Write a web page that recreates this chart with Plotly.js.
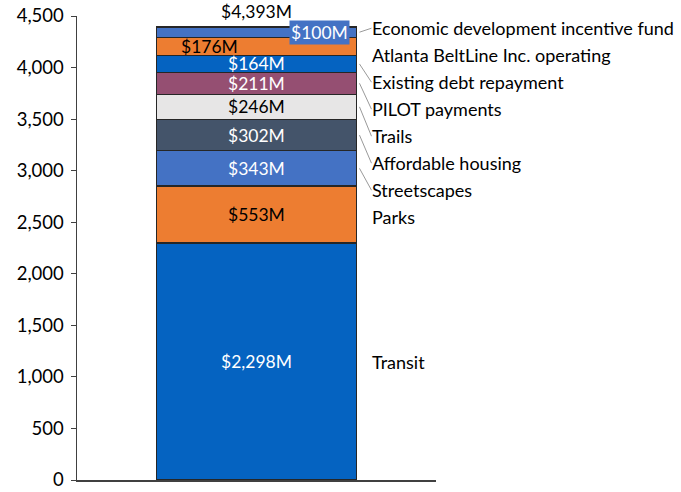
<!DOCTYPE html>
<html>
<head>
<meta charset="utf-8">
<script src="https://cdn.plot.ly/plotly-3.0.1.min.js"></script>
<style>html,body{margin:0;padding:0;background:#fff;}#chart{width:681px;height:492px;}</style>
</head>
<body>
<div id="chart"></div>
<script>
// Data (bottom to top of the stack)
var categories = ["Transit", "Parks", "Streetscapes", "Affordable housing", "Trails",
  "PILOT payments", "Existing debt repayment", "Atlanta BeltLine Inc. operating",
  "Economic development incentive fund"];
var values = [2298, 553, 343, 302, 246, 211, 164, 176, 100];
var valueLabels = ["$2,298M", "$553M", "$343M", "$302M", "$246M", "$211M", "$164M", "$176M", "$100M"];
var totalLabel = "$4,393M";
var yTickVals = [0, 500, 1000, 1500, 2000, 2500, 3000, 3500, 4000, 4500];

// Styles
var colors = ["#0563C1", "#ED7D31", "#4472C4", "#44546A", "#E7E6E6", "#954F72", "#0563C1", "#ED7D31", "#4472C4"];
var textColors = ["#fff", "#000", "#fff", "#fff", "#000", "#fff", "#fff", "#000", "#fff"];
var labelShift = [0, 0, 0, 0, 0, 0, 0, -47, 63];
var showLeader = [false, false, true, true, true, true, true, false, true];

var FONT = "Lato, 'Open Sans', sans-serif";
var barWidth = 0.557;
var plotTop = 16, plotBottom = 12, plotH = 492 - plotTop - plotBottom;
var yMax = 4500;
var pxPerUnit = plotH / yMax;

var traces = [];
var annotations = [];
var shapes = [];
var base = 0;
var centers = [];
for (var i = 0; i < categories.length; i++) {
  traces.push({
    type: "bar", x: [0], y: [values[i]], name: categories[i],
    width: barWidth,
    marker: {color: colors[i], line: {color: "#262626", width: 1.2}},
    hoverinfo: "name+y"
  });
  var c = base + values[i] / 2;
  centers.push(c);
  var ann = {
    x: 0, y: c, xref: "x", yref: "y", text: valueLabels[i], showarrow: false,
    xshift: labelShift[i], font: {family: FONT, size: 17.5, color: textColors[i]}
  };
  if (i === categories.length - 1) {
    ann.bgcolor = colors[i];
    ann.borderpad = 1;
  }
  annotations.push(ann);
  base += values[i];
}
var total = base;
annotations.push({
  x: 0, y: total, xref: "x", yref: "y", text: totalLabel, showarrow: false,
  yanchor: "bottom", yshift: 3, font: {family: FONT, size: 17.5, color: "#000"}
});

// Category labels on the right: top-down, keep at least `gap` px apart
var gapPx = 27;
var labelY = new Array(categories.length);
var prevPx = null;
for (var j = categories.length - 1; j >= 0; j--) {
  var cpx = centers[j] * pxPerUnit;          // px above zero
  var py = cpx;
  if (j === categories.length - 1) py = cpx + 4;
  if (prevPx !== null && py > prevPx - gapPx) py = prevPx - gapPx;
  labelY[j] = py / pxPerUnit;
  prevPx = py;
}
for (var k = 0; k < categories.length; k++) {
  annotations.push({
    x: barWidth / 2, y: labelY[k], xref: "x", yref: "y", text: categories[k],
    showarrow: false, xanchor: "left", xshift: 14,
    font: {family: FONT, size: 18, color: "#000"}
  });
  if (showLeader[k]) {
    shapes.push({
      type: "line", xref: "x", yref: "y", xsizemode: "pixel", xanchor: barWidth / 2,
      x0: 3, x1: 15, y0: centers[k], y1: labelY[k],
      line: {color: "#7f7f7f", width: 0.8}
    });
  }
}

var layout = {
  width: 681, height: 492,
  margin: {l: 77, r: 245, t: plotTop, b: plotBottom},
  barmode: "stack",
  showlegend: false,
  paper_bgcolor: "#fff", plot_bgcolor: "#fff",
  font: {family: FONT, size: 18, color: "#000"},
  xaxis: {
    range: [-0.5, 0.5], showticklabels: false, ticks: "", showgrid: false, zeroline: false,
    showline: true, linecolor: "#404040", linewidth: 1.5, fixedrange: true
  },
  yaxis: {
    range: [0, yMax], tickvals: yTickVals, tickformat: ",", ticks: "outside", ticklen: 5,
    tickcolor: "#404040", showgrid: false, zeroline: false, showline: true,
    linecolor: "#404040", linewidth: 1.5, tickfont: {family: FONT, size: 18.5, color: "#000"},
    ticklabelstandoff: 3, ticklabeloverflow: "allow"
  },
  annotations: annotations,
  shapes: shapes
};
Plotly.newPlot("chart", traces, layout, {displayModeBar: false, staticPlot: true});
</script>
</body>
</html>
